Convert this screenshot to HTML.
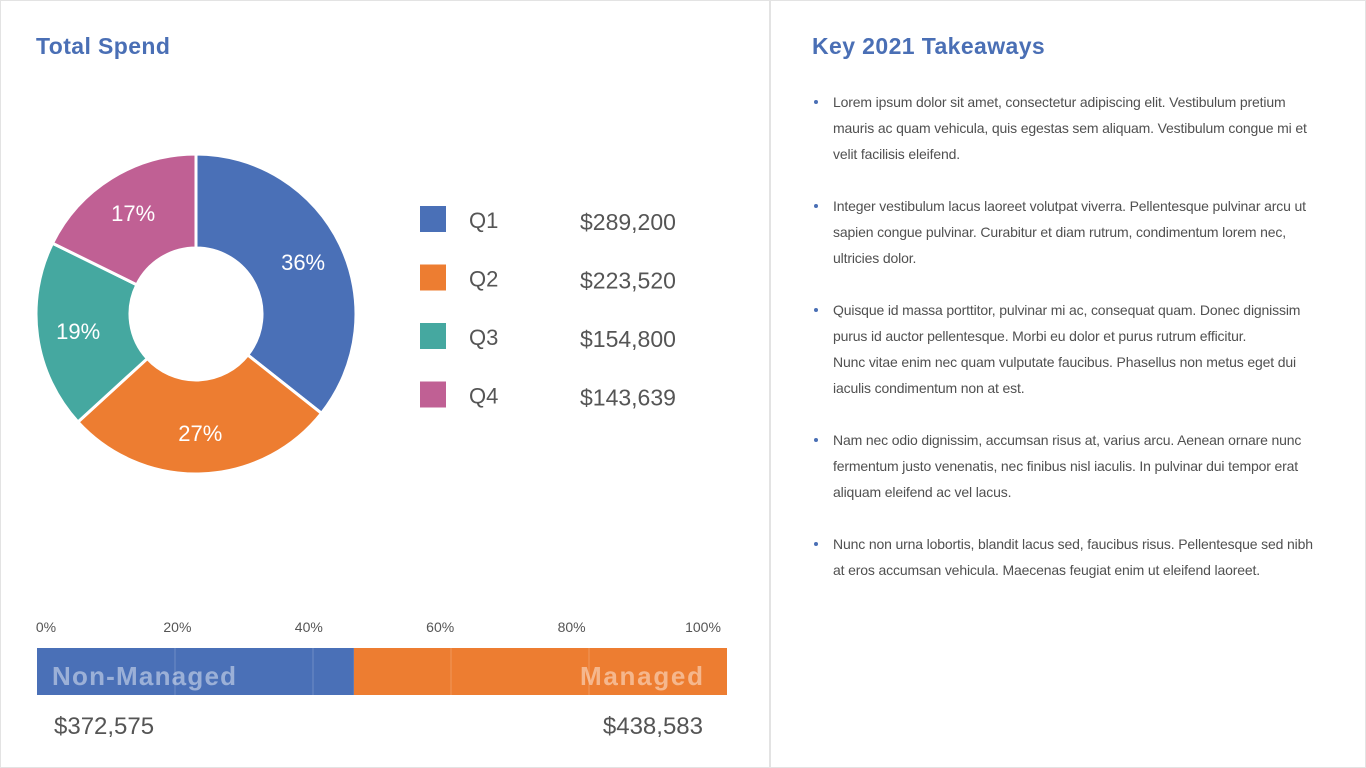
<!DOCTYPE html>
<html><head><meta charset="utf-8">
<style>
html,body{margin:0;padding:0;background:#fff;}
body{width:1366px;height:768px;position:relative;overflow:hidden;font-family:"Liberation Sans",sans-serif;}
.frame{position:absolute;left:0;top:0;width:1364px;height:766px;border:1px solid #e3e3e3;}
.divider{position:absolute;left:769px;top:0;width:2px;height:768px;background:#e3e3e3;}
h2{position:absolute;margin:0;font-size:23px;font-weight:bold;color:#4a6fb5;letter-spacing:0.4px;}
.bullets{position:absolute;left:812px;top:89px;width:540px;font-size:14px;color:#505050;line-height:26px;letter-spacing:-0.15px;}
.item{position:relative;padding-left:21px;margin-bottom:26px;white-space:nowrap;}
.item::before{content:"";position:absolute;left:2px;top:11px;width:4px;height:4px;border-radius:50%;background:#4a6fb5;}
</style></head><body>
<div class="frame"></div>
<div class="divider"></div>
<h2 style="left:36px;top:33px">Total Spend</h2>
<h2 style="left:812px;top:33px">Key 2021 Takeaways</h2>
<svg id="chart" width="770" height="768" style="position:absolute;left:0;top:0"></svg>
<div class="bullets">
<div class="item">Lorem ipsum dolor sit amet, consectetur adipiscing elit. Vestibulum pretium<br>mauris ac quam vehicula, quis egestas sem aliquam. Vestibulum congue mi et<br>velit facilisis eleifend.</div>
<div class="item">Integer vestibulum lacus laoreet volutpat viverra. Pellentesque pulvinar arcu ut<br>sapien congue pulvinar. Curabitur et diam rutrum, condimentum lorem nec,<br>ultricies dolor.</div>
<div class="item">Quisque id massa porttitor, pulvinar mi ac, consequat quam. Donec dignissim<br>purus id auctor pellentesque. Morbi eu dolor et purus rutrum efficitur.<br>Nunc vitae enim nec quam vulputate faucibus. Phasellus non metus eget dui<br>iaculis condimentum non at est.</div>
<div class="item">Nam nec odio dignissim, accumsan risus at, varius arcu. Aenean ornare nunc<br>fermentum justo venenatis, nec finibus nisl iaculis. In pulvinar dui tempor erat<br>aliquam eleifend ac vel lacus.</div>
<div class="item">Nunc non urna lobortis, blandit lacus sed, faucibus risus. Pellentesque sed nibh<br>at eros accumsan vehicula. Maecenas feugiat enim ut eleifend laoreet.</div>
</div>
<script>
const quarters = ["Q1","Q2","Q3","Q4"];
const quarterValues = [289200,223520,154800,143639];
const quarterLabels = ["$289,200","$223,520","$154,800","$143,639"];
const pctLabels = ["36%","27%","19%","17%"];
const segCategories = ["Non-Managed","Managed"];
const segValues = [372575,438583];
const segLabels = ["$372,575","$438,583"];
const axisTicks = [0,20,40,60,80,100];
const colors = ["#4a70b7","#ed7d31","#45a8a0","#c06094"];

const NS="http://www.w3.org/2000/svg";
const svg=document.getElementById("chart");
function mk(tag,attrs,parent){const e=document.createElementNS(NS,tag);for(const k in attrs)e.setAttribute(k,attrs[k]);(parent||svg).appendChild(e);return e;}

// donut
const cx=196,cy=314,R=160,r=66;
const total=quarterValues.reduce((a,b)=>a+b,0);
let a0=0;
quarterValues.forEach((v,i)=>{
  const a1=a0+v/total*2*Math.PI;
  const pt=(ang,rad)=>[cx+rad*Math.sin(ang),cy-rad*Math.cos(ang)];
  const large=(a1-a0)>Math.PI?1:0;
  const [x1,y1]=pt(a0,R),[x2,y2]=pt(a1,R),[x3,y3]=pt(a1,r),[x4,y4]=pt(a0,r);
  const p=mk("path",{d:`M${x1},${y1}A${R},${R} 0 ${large} 1 ${x2},${y2}L${x3},${y3}A${r},${r} 0 ${large} 0 ${x4},${y4}Z`,fill:colors[i],stroke:"#fff","stroke-width":3});
  
  
  const mid=(a0+a1)/2;const [lx,ly]=pt(mid,(R+r)/2+6);
  const t=mk("text",{x:lx,y:ly+8,"text-anchor":"middle","font-size":22,fill:"#fff"});
  t.textContent=pctLabels[i];
  
  
  a0=a1;
});
// legend
quarters.forEach((q,i)=>{
  const y=220+i*58.5;
  const s=mk("rect",{x:420,y:y-14,width:26,height:26,fill:colors[i]});
  
  
  const t=mk("text",{x:469,y:y+8,"font-size":22,fill:"#555"});t.textContent=q;
  
  
  const v=mk("text",{x:580,y:y+10,"font-size":23,fill:"#555"});v.textContent=quarterLabels[i];
  
  
});
// stacked bar
const bx0=37,bx1=727,by=648,bh=47;
const xs=p=>bx0+(bx1-bx0)*p/100;
const xl=p=>46+(703-46)*p/100;
const segTotal=segValues.reduce((a,b)=>a+b,0);
let acc=0;
segValues.forEach((v,i)=>{
  const p0=acc/segTotal*100,p1=(acc+v)/segTotal*100;
  const rc=mk("rect",{x:xs(p0),y:by,width:xs(p1)-xs(p0),height:bh,fill:colors[i]});
  
  
  acc+=v;
});
axisTicks.forEach((t,i)=>{
  const x=xs(t);
  if(t>0&&t<100){const g=mk("line",{x1:x,y1:by,x2:x,y2:by+bh,stroke:"rgba(255,255,255,0.2)","stroke-width":1});
    }
  const tx=mk("text",{x:xl(t),y:632,"font-size":14,fill:"#555","text-anchor":"middle"});
  tx.textContent=t+"%";
  
  
});
const n1=mk("text",{x:52,y:685,"font-size":26,"font-weight":"bold",fill:"rgba(255,255,255,0.45)",textLength:184});n1.textContent=segCategories[0];

const n2=mk("text",{x:580,y:685,"font-size":26,"font-weight":"bold",fill:"rgba(255,255,255,0.45)",textLength:123});n2.textContent=segCategories[1];

const v1=mk("text",{x:54,y:734,"font-size":24,fill:"#555"});v1.textContent=segLabels[0];

const v2=mk("text",{x:703,y:734,"font-size":24,fill:"#555","text-anchor":"end"});v2.textContent=segLabels[1];

</script>
</body></html>
